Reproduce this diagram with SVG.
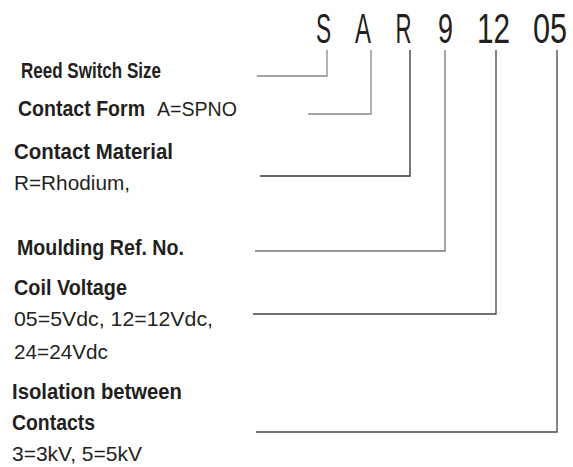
<svg xmlns="http://www.w3.org/2000/svg" width="573" height="467" viewBox="0 0 573 467">
<style>
text{font-family:"Liberation Sans",Arial,sans-serif;fill:#231f20}
.b{font-weight:bold;font-size:22px}
.r{font-size:21px}
.c{font-size:42px;text-anchor:middle}
.ln{fill:none;stroke-width:1.3}
</style>
<rect width="573" height="467" fill="#fff"/>
<g id="code">
<text class="c" transform="translate(323.5,43) scale(0.54,1)">S</text>
<text class="c" transform="translate(363,43) scale(0.57,1)">A</text>
<text class="c" transform="translate(403.5,43) scale(0.53,1)">R</text>
<text class="c" transform="translate(445.5,43) scale(0.64,1)">9</text>
<text class="c" transform="translate(493.5,43) scale(0.71,1)">12</text>
<text class="c" transform="translate(550,43) scale(0.73,1)">05</text>
</g>
<g id="label-size"><text class="b" x="21" y="78" textLength="140" lengthAdjust="spacingAndGlyphs">Reed Switch Size</text></g>
<g id="label-form"><text class="b" x="18" y="116" textLength="127" lengthAdjust="spacingAndGlyphs">Contact Form</text><text class="r" x="157" y="116" textLength="80" lengthAdjust="spacingAndGlyphs">A=SPNO</text></g>
<g id="label-material"><text class="b" x="14" y="159" textLength="159" lengthAdjust="spacingAndGlyphs">Contact Material</text><text class="r" x="14" y="190" textLength="116" lengthAdjust="spacingAndGlyphs">R=Rhodium,</text></g>
<g id="label-moulding"><text class="b" x="17" y="255" textLength="167" lengthAdjust="spacingAndGlyphs">Moulding Ref. No.</text></g>
<g id="label-coil"><text class="b" x="14" y="295" textLength="113" lengthAdjust="spacingAndGlyphs">Coil Voltage</text><text class="r" x="14" y="326" textLength="199" lengthAdjust="spacingAndGlyphs">05=5Vdc, 12=12Vdc,</text><text class="r" x="14" y="359" textLength="94" lengthAdjust="spacingAndGlyphs">24=24Vdc</text></g>
<g id="label-isolation"><text class="b" x="12" y="399" textLength="170" lengthAdjust="spacingAndGlyphs">Isolation between</text><text class="b" x="12" y="430" textLength="83" lengthAdjust="spacingAndGlyphs">Contacts</text><text class="r" x="12" y="461" textLength="130" lengthAdjust="spacingAndGlyphs">3=3kV, 5=5kV</text></g>
<g id="connectors">
<polyline class="ln" stroke="#888" points="327,50 327,76 257,76"/>
<polyline class="ln" stroke="#888" points="371,50 371,114 308,114"/>
<polyline class="ln" stroke="#333" points="410,50 410,176 260,176"/>
<polyline class="ln" stroke="#777" points="445,50 445,251 255,251"/>
<polyline class="ln" stroke="#444" points="496,50 496,314 253,314"/>
<polyline class="ln" stroke="#444" points="557,50 557,432 256,432"/>
</g>
</svg>
